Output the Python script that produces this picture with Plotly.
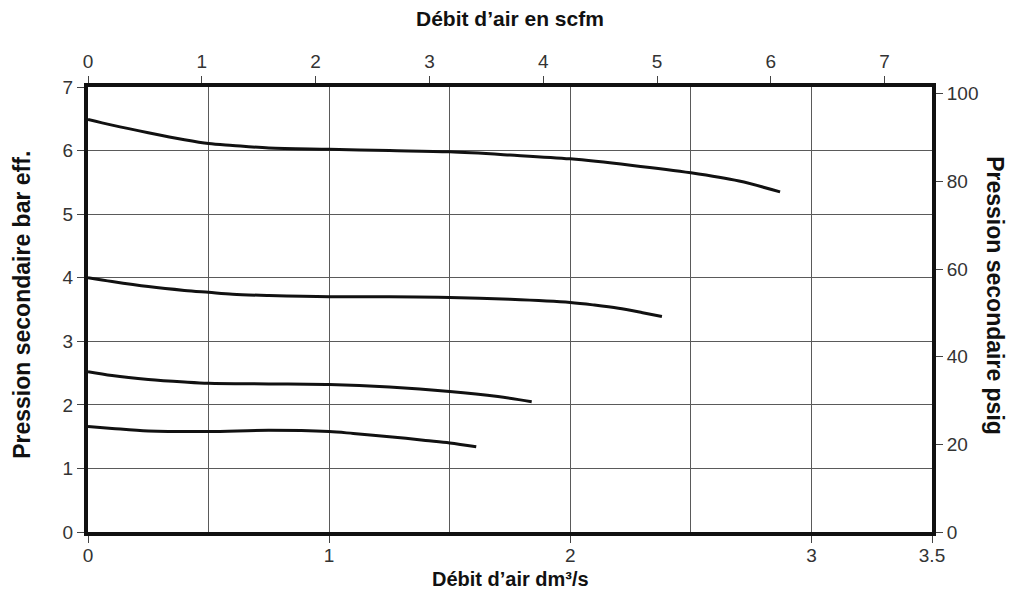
import plotly.graph_objects as go

# Data (x in dm3/s, y in bar eff.)
x_65 = [0.0, 0.1, 0.25, 0.4, 0.5, 0.6, 0.75, 1.0, 1.25, 1.5, 1.75, 2.0, 2.25, 2.5, 2.7, 2.87]
y_65 = [6.49, 6.40, 6.28, 6.17, 6.11, 6.08, 6.04, 6.02, 6.00, 5.98, 5.93, 5.87, 5.77, 5.65, 5.52, 5.35]

x_40 = [0.0, 0.1, 0.25, 0.4, 0.5, 0.6, 0.75, 1.0, 1.25, 1.5, 1.75, 2.0, 2.1, 2.2, 2.3, 2.38]
y_40 = [4.0, 3.94, 3.86, 3.80, 3.77, 3.74, 3.72, 3.70, 3.70, 3.69, 3.66, 3.61, 3.57, 3.52, 3.45, 3.39]

x_25 = [0.0, 0.1, 0.25, 0.4, 0.5, 0.75, 1.0, 1.25, 1.5, 1.7, 1.84]
y_25 = [2.52, 2.46, 2.40, 2.36, 2.34, 2.33, 2.32, 2.28, 2.21, 2.13, 2.05]

x_17 = [0.0, 0.1, 0.25, 0.5, 0.75, 1.0, 1.1, 1.25, 1.4, 1.5, 1.61]
y_17 = [1.66, 1.63, 1.59, 1.58, 1.60, 1.58, 1.55, 1.50, 1.44, 1.40, 1.34]

x_ticks = [0, 1, 2, 3, 3.5]
x_tick_text = ["0", "1", "2", "3", "3.5"]
x_minor_grid = [0.5, 1.5, 2.5]
scfm_ticks = [0, 1, 2, 3, 4, 5, 6, 7]
bar_ticks = [0, 1, 2, 3, 4, 5, 6, 7]
psig_ticks = [0, 20, 40, 60, 80, 100]

X_MAX = 3.5
Y_MAX = 7
SCFM_PER_DM3S = 2.1189
PSI_PER_BAR = 14.5038

FONT = "Liberation Sans, Arial, sans-serif"
TICKFONT = dict(family=FONT, size=19, color="#333333")
GRID = "#5a5a5a"

fig = go.Figure()
for xs, ys in [(x_65, y_65), (x_40, y_40), (x_25, y_25), (x_17, y_17)]:
    fig.add_trace(go.Scatter(x=xs, y=ys, mode="lines",
                             line=dict(color="#111111", width=3, shape="spline", smoothing=0.9),
                             showlegend=False, hoverinfo="skip"))

# invisible trace to activate secondary axes
fig.add_trace(go.Scatter(x=[0], y=[0], xaxis="x2", yaxis="y2", mode="markers",
                         marker=dict(opacity=0), showlegend=False, hoverinfo="skip"))

axis_common = dict(showline=True, linewidth=4, linecolor="#111111",
                   ticks="outside", ticklen=7, tickwidth=1, tickcolor="#444444",
                   tickfont=TICKFONT, zeroline=False)

fig.update_layout(
    width=1008, height=584,
    margin=dict(l=80, r=84, t=79, b=60),
    paper_bgcolor="white", plot_bgcolor="white",
    xaxis=dict(range=[0, X_MAX], tickvals=x_ticks, ticktext=x_tick_text,
               showgrid=True, gridcolor=GRID, gridwidth=1, ticklabelstandoff=-4,
               minor=dict(tickvals=x_minor_grid, showgrid=True, gridcolor=GRID, gridwidth=1, ticks=""),
               **axis_common),
    xaxis2=dict(range=[0, X_MAX * SCFM_PER_DM3S], tickvals=scfm_ticks, overlaying="x",
                side="top", showgrid=False, anchor="y", **axis_common),
    yaxis=dict(range=[0, Y_MAX], tickvals=bar_ticks, showgrid=True, gridcolor=GRID,
               gridwidth=1, **axis_common),
    yaxis2=dict(range=[0, Y_MAX * PSI_PER_BAR], tickvals=psig_ticks, overlaying="y",
                side="right", showgrid=False, anchor="x", **axis_common),
    annotations=[
        dict(text="<b>Débit d’air en scfm</b>", xref="paper", yref="paper", x=0.5, y=1.153,
             xanchor="center", yanchor="middle", showarrow=False,
             font=dict(family=FONT, size=21, color="#111111")),
        dict(text="<b>Débit d’air dm³/s</b>", xref="paper", yref="paper", x=0.5, y=-0.106,
             xanchor="center", yanchor="middle", showarrow=False,
             font=dict(family=FONT, size=20, color="#111111")),
        dict(text="<b>Pression secondaire bar eff.</b>", xref="paper", yref="paper", x=-0.0785, y=0.51,
             xanchor="center", yanchor="middle", showarrow=False, textangle=-90,
             font=dict(family=FONT, size=23, color="#111111")),
        dict(text="<b>Pression secondaire psig</b>", xref="paper", yref="paper", x=1.0746, y=0.53,
             xanchor="center", yanchor="middle", showarrow=False, textangle=90,
             font=dict(family=FONT, size=23, color="#111111")),
    ],
)

fig.write_html("out.html")
